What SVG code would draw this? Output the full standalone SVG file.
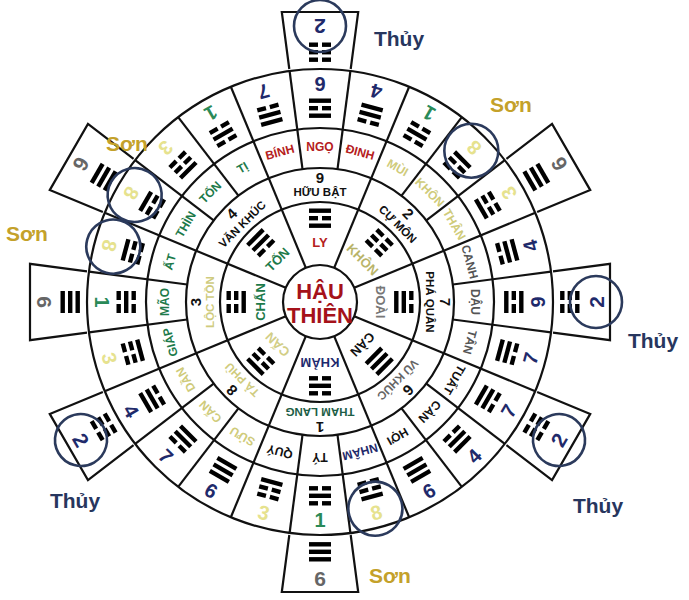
<svg xmlns="http://www.w3.org/2000/svg" xmlns:xlink="http://www.w3.org/1999/xlink" width="689" height="600" viewBox="0 0 689 600">
<style>
text{font-family:"Liberation Sans",Arial,sans-serif;font-weight:bold;text-anchor:middle;dominant-baseline:central}
.mn{font-size:12px}
.sn{font-size:11.5px}
.snum{font-size:15px;fill:#111}
.num{font-size:20px}
.tnum{font-size:21px}
.nv{fill:#1f2a6b}.gr{fill:#2a8a58}.yl{fill:#e6e28e}.gy{fill:#666}
.ln{stroke:#111;stroke-width:2.2;fill:none}
.tab{stroke:#111;stroke-width:2.2;fill:#fff}
.ring{stroke:#2b3a5c;stroke-width:2.6;fill:none}
.lbl{font-size:21px}
</style>
<defs>
<g id="S"><rect x="-11" y="-2" width="22" height="4.4"/></g>
<g id="B"><rect x="-11" y="-2" width="9" height="4.4"/><rect x="2" y="-2" width="9" height="4.4"/></g>
<g id="t6"><use href="#S" y="-7.5"/><use href="#S"/><use href="#S" y="7.5"/></g>
<g id="t2"><use href="#B" y="-7.5"/><use href="#B"/><use href="#B" y="7.5"/></g>
<g id="t3"><use href="#B" y="-7.5"/><use href="#B"/><use href="#S" y="7.5"/></g>
<g id="t1"><use href="#B" y="-7.5"/><use href="#S"/><use href="#B" y="7.5"/></g>
<g id="t8"><use href="#S" y="-7.5"/><use href="#B"/><use href="#B" y="7.5"/></g>
<g id="t4"><use href="#S" y="-7.5"/><use href="#S"/><use href="#B" y="7.5"/></g>
<g id="t9"><use href="#S" y="-7.5"/><use href="#B"/><use href="#S" y="7.5"/></g>
<g id="t7"><use href="#B" y="-7.5"/><use href="#S"/><use href="#S" y="7.5"/></g>
<path id="tabshape" class="tab" d="M-30.7,-233 L-38.2,-290 L38.2,-290 L30.7,-233"/>
</defs>
<rect width="689" height="600" fill="#fff"/>
<g transform="translate(320,302)">
<g id="tabs">
<use href="#tabshape" transform="rotate(0)"/>
<use href="#tabshape" transform="rotate(60)"/>
<use href="#tabshape" transform="rotate(90)"/>
<use href="#tabshape" transform="rotate(120)"/>
<use href="#tabshape" transform="rotate(180)"/>
<use href="#tabshape" transform="rotate(240)"/>
<use href="#tabshape" transform="rotate(270)"/>
<use href="#tabshape" transform="rotate(300)"/>
</g>
<g id="connectors">
<circle class="ln" r="37"/><circle class="ln" r="100"/><circle class="ln" r="134"/><circle class="ln" r="174"/><circle class="ln" r="233"/>
<g id="rad8">
<line class="ln" x1="0" y1="-37" x2="0" y2="-134" transform="rotate(22.5)"/>
<line class="ln" x1="0" y1="-37" x2="0" y2="-134" transform="rotate(67.5)"/>
<line class="ln" x1="0" y1="-37" x2="0" y2="-134" transform="rotate(112.5)"/>
<line class="ln" x1="0" y1="-37" x2="0" y2="-134" transform="rotate(157.5)"/>
<line class="ln" x1="0" y1="-37" x2="0" y2="-134" transform="rotate(202.5)"/>
<line class="ln" x1="0" y1="-37" x2="0" y2="-134" transform="rotate(247.5)"/>
<line class="ln" x1="0" y1="-37" x2="0" y2="-134" transform="rotate(292.5)"/>
<line class="ln" x1="0" y1="-37" x2="0" y2="-134" transform="rotate(337.5)"/>
</g>
<g id="rad24">
<line class="ln" x1="0" y1="-134" x2="0" y2="-233" transform="rotate(7.5)"/>
<line class="ln" x1="0" y1="-134" x2="0" y2="-233" transform="rotate(22.5)"/>
<line class="ln" x1="0" y1="-134" x2="0" y2="-233" transform="rotate(37.5)"/>
<line class="ln" x1="0" y1="-134" x2="0" y2="-233" transform="rotate(52.5)"/>
<line class="ln" x1="0" y1="-134" x2="0" y2="-233" transform="rotate(67.5)"/>
<line class="ln" x1="0" y1="-134" x2="0" y2="-233" transform="rotate(82.5)"/>
<line class="ln" x1="0" y1="-134" x2="0" y2="-233" transform="rotate(97.5)"/>
<line class="ln" x1="0" y1="-134" x2="0" y2="-233" transform="rotate(112.5)"/>
<line class="ln" x1="0" y1="-134" x2="0" y2="-233" transform="rotate(127.5)"/>
<line class="ln" x1="0" y1="-134" x2="0" y2="-233" transform="rotate(142.5)"/>
<line class="ln" x1="0" y1="-134" x2="0" y2="-233" transform="rotate(157.5)"/>
<line class="ln" x1="0" y1="-134" x2="0" y2="-233" transform="rotate(172.5)"/>
<line class="ln" x1="0" y1="-134" x2="0" y2="-233" transform="rotate(187.5)"/>
<line class="ln" x1="0" y1="-134" x2="0" y2="-233" transform="rotate(202.5)"/>
<line class="ln" x1="0" y1="-134" x2="0" y2="-233" transform="rotate(217.5)"/>
<line class="ln" x1="0" y1="-134" x2="0" y2="-233" transform="rotate(232.5)"/>
<line class="ln" x1="0" y1="-134" x2="0" y2="-233" transform="rotate(247.5)"/>
<line class="ln" x1="0" y1="-134" x2="0" y2="-233" transform="rotate(262.5)"/>
<line class="ln" x1="0" y1="-134" x2="0" y2="-233" transform="rotate(277.5)"/>
<line class="ln" x1="0" y1="-134" x2="0" y2="-233" transform="rotate(292.5)"/>
<line class="ln" x1="0" y1="-134" x2="0" y2="-233" transform="rotate(307.5)"/>
<line class="ln" x1="0" y1="-134" x2="0" y2="-233" transform="rotate(322.5)"/>
<line class="ln" x1="0" y1="-134" x2="0" y2="-233" transform="rotate(337.5)"/>
<line class="ln" x1="0" y1="-134" x2="0" y2="-233" transform="rotate(352.5)"/>
</g>
</g>
<g id="center"><text y="-11" font-size="22" fill="#a5121a">HẬU</text><text y="13" font-size="22" fill="#a5121a">THIÊN</text></g>
<g id="palaces">
<g id="p-ly" transform="rotate(0)"><use href="#t9" y="-84"/><text y="-60" font-size="13" fill="#b52020">LY</text><text class="sn" y="-110" fill="#111">HỮU BẬT</text><text class="snum" y="-125">9</text></g>
<g id="p-khon" transform="rotate(45)"><use href="#t2" y="-84"/><text y="-60" font-size="13" fill="#b9b46a">KHÔN</text><text class="sn" y="-110" fill="#111">CỰ MÔN</text><text class="snum" y="-125">2</text></g>
<g id="p-doai" transform="rotate(90)"><use href="#t7" y="-84"/><text y="-60" font-size="13" fill="#777">ĐOÀI</text><text class="sn" y="-110" fill="#111">PHÁ QUÂN</text><text class="snum" y="-125">7</text></g>
<g id="p-can" transform="rotate(135)"><use href="#t6" y="-84"/><text y="-60" font-size="13" fill="#111">CÀN</text><text class="sn" y="-110" fill="#666">VŨ KHÚC</text><text class="snum" y="-125">6</text></g>
<g id="p-kham" transform="rotate(180)"><use href="#t1" y="-84"/><text y="-60" font-size="13" fill="#1e2a6e">KHẢM</text><text class="sn" y="-110" fill="#1d5e46">THAM LANG</text><text class="snum" y="-125">1</text></g>
<g id="p-cann" transform="rotate(225)"><use href="#t8" y="-84"/><text y="-60" font-size="13" fill="#d2ce86">CẤN</text><text class="sn" y="-110" fill="#cfcb7e">TẢ PHÙ</text><text class="snum" y="-125">8</text></g>
<g id="p-chan" transform="rotate(270)"><use href="#t3" y="-84"/><text y="-60" font-size="13" fill="#1d7a4a">CHẤN</text><text class="sn" y="-110" fill="#cfcb7e">LỘC TỒN</text><text class="snum" y="-125">3</text></g>
<g id="p-ton" transform="rotate(315)"><use href="#t4" y="-84"/><text y="-60" font-size="13" fill="#1d7a4a">TỐN</text><text class="sn" y="-110" fill="#111">VĂN KHÚC</text><text class="snum" y="-125">4</text></g>
</g>
<g id="mountains">
<g id="m-ngo" transform="rotate(0)"><text class="mn" y="-155" fill="#b52020">NGỌ</text><use href="#t9" y="-194"/><text class="num nv" y="-218">9</text></g>
<g id="m-dinh" transform="rotate(15)"><text class="mn" y="-155" fill="#b52020">ĐINH</text><use href="#t4" y="-194"/><text class="num nv" transform="translate(0,-218) rotate(180)">4</text></g>
<g id="m-mui" transform="rotate(30)"><text class="mn" y="-155" fill="#cfcb7a">MÙI</text><use href="#t1" y="-194"/><text class="num gr" transform="translate(0,-218) rotate(180)">1</text></g>
<g id="m-khon" transform="rotate(45)"><text class="mn" y="-155" fill="#cfcb7a">KHÔN</text><use href="#t8" y="-194"/><text class="num yl" transform="translate(0,-218) rotate(180)">8</text></g>
<g id="m-than" transform="rotate(60)"><text class="mn" y="-155" fill="#cfcb7a">THÂN</text><use href="#t3" y="-194"/><text class="num yl" transform="translate(0,-218) rotate(180)">3</text></g>
<g id="m-canh" transform="rotate(75)"><text class="mn" y="-155" fill="#555">CANH</text><use href="#t4" y="-194"/><text class="num nv" transform="translate(0,-218) rotate(180)">4</text></g>
<g id="m-dau" transform="rotate(90)"><text class="mn" y="-155" fill="#555">DẬU</text><use href="#t9" y="-194"/><text class="num nv" transform="translate(0,-218) rotate(180)">9</text></g>
<g id="m-tan" transform="rotate(105)"><text class="mn" y="-155" fill="#555">TÂN</text><use href="#t7" y="-194"/><text class="num nv" transform="translate(0,-218) rotate(180)">7</text></g>
<g id="m-tuat" transform="rotate(120)"><text class="mn" y="-155" fill="#111">TUẤT</text><use href="#t7" y="-194"/><text class="num nv" transform="translate(0,-218) rotate(180)">7</text></g>
<g id="m-can" transform="rotate(135)"><text class="mn" y="-155" fill="#111">CÀN</text><use href="#t4" y="-194"/><text class="num nv" transform="translate(0,-218) rotate(180)">4</text></g>
<g id="m-hoi" transform="rotate(150)"><text class="mn" y="-155" fill="#111">HỢI</text><use href="#t6" y="-194"/><text class="num nv" transform="translate(0,-218) rotate(180)">6</text></g>
<g id="m-nham" transform="rotate(165)"><text class="mn" y="-155" fill="#1f2a6b">NHÂM</text><use href="#t8" y="-194"/><text class="num yl" transform="translate(0,-218) rotate(180)">8</text></g>
<g id="m-ty" transform="rotate(180)"><text class="mn" y="-155" fill="#111">TÝ</text><use href="#t1" y="-194"/><text class="num gr" transform="translate(0,-218) rotate(180)">1</text></g>
<g id="m-quy" transform="rotate(195)"><text class="mn" y="-155" fill="#111">QUÝ</text><use href="#t3" y="-194"/><text class="num yl" transform="translate(0,-218) rotate(180)">3</text></g>
<g id="m-suu" transform="rotate(210)"><text class="mn" y="-155" fill="#cfcb7a">SỬU</text><use href="#t6" y="-194"/><text class="num nv" transform="translate(0,-218) rotate(180)">6</text></g>
<g id="m-cann" transform="rotate(225)"><text class="mn" y="-155" fill="#cfcb7a">CẤN</text><use href="#t7" y="-194"/><text class="num nv" transform="translate(0,-218) rotate(180)">7</text></g>
<g id="m-dan" transform="rotate(240)"><text class="mn" y="-155" fill="#cfcb7a">DẦN</text><use href="#t4" y="-194"/><text class="num nv" transform="translate(0,-218) rotate(180)">4</text></g>
<g id="m-giap" transform="rotate(255)"><text class="mn" y="-155" fill="#1d7a4a">GIÁP</text><use href="#t3" y="-194"/><text class="num yl" transform="translate(0,-218) rotate(180)">3</text></g>
<g id="m-mao" transform="rotate(270)"><text class="mn" y="-155" fill="#1d7a4a">MÃO</text><use href="#t1" y="-194"/><text class="num gr" transform="translate(0,-218) rotate(180)">1</text></g>
<g id="m-at" transform="rotate(285)"><text class="mn" y="-155" fill="#1d7a4a">ẤT</text><use href="#t8" y="-194"/><text class="num yl" transform="translate(0,-218) rotate(180)">8</text></g>
<g id="m-thin" transform="rotate(300)"><text class="mn" y="-155" fill="#1d7a4a">THÌN</text><use href="#t8" y="-194"/><text class="num yl" transform="translate(0,-218) rotate(180)">8</text></g>
<g id="m-ton" transform="rotate(315)"><text class="mn" y="-155" fill="#1d7a4a">TỐN</text><use href="#t3" y="-194"/><text class="num yl" transform="translate(0,-218) rotate(180)">3</text></g>
<g id="m-ti" transform="rotate(330)"><text class="mn" y="-155" fill="#1d7a4a">TỊ</text><use href="#t1" y="-194"/><text class="num gr" transform="translate(0,-218) rotate(180)">1</text></g>
<g id="m-binh" transform="rotate(345)"><text class="mn" y="-155" fill="#b52020">BÍNH</text><use href="#t7" y="-194"/><text class="num nv" transform="translate(0,-218) rotate(180)">7</text></g>
</g>
<g id="tab-content">
<g id="tb-ngo" transform="rotate(0)"><use href="#t2" y="-250"/><text class="tnum nv" transform="translate(0,-276) rotate(180)">2</text><circle class="ring" cy="-276" r="26"/></g>
<g id="tb-than" transform="rotate(60)"><use href="#t6" y="-250"/><text class="tnum gy" transform="translate(0,-276) rotate(180)">6</text></g>
<g id="tb-dau" transform="rotate(90)"><use href="#t2" y="-250"/><text class="tnum nv" transform="translate(0,-276) rotate(180)">2</text><circle class="ring" cy="-276" r="26"/></g>
<g id="tb-tuat" transform="rotate(120)"><use href="#t2" y="-250"/><text class="tnum nv" transform="translate(0,-276) rotate(180)">2</text><circle class="ring" cy="-276" r="26"/></g>
<g id="tb-ty" transform="rotate(180)"><use href="#t6" y="-250"/><text class="tnum gy" transform="translate(0,-276) rotate(180)">6</text></g>
<g id="tb-dan" transform="rotate(240)"><use href="#t2" y="-250"/><text class="tnum nv" transform="translate(0,-276) rotate(180)">2</text><circle class="ring" cy="-276" r="26"/></g>
<g id="tb-mao" transform="rotate(270)"><use href="#t6" y="-250"/><text class="tnum gy" transform="translate(0,-276) rotate(180)">6</text></g>
<g id="tb-thin" transform="rotate(300)"><use href="#t6" y="-250"/><text class="tnum gy" transform="translate(0,-276) rotate(180)">6</text></g>
</g>
<g id="son-rings">
<circle class="ring" cy="-214" r="27" transform="rotate(45)"/>
<circle class="ring" cy="-214" r="27" transform="rotate(165)"/>
<circle class="ring" cy="-214" r="27" transform="rotate(285)"/>
<circle class="ring" cy="-214" r="27" transform="rotate(300)"/>
</g>
</g>
<g id="labels">
<text class="lbl" x="399" y="38" fill="#27365e">Thủy</text>
<text class="lbl" x="653" y="340" fill="#27365e">Thủy</text>
<text class="lbl" x="75" y="500" fill="#27365e">Thủy</text>
<text class="lbl" x="598" y="505" fill="#27365e">Thủy</text>
<text class="lbl" x="511" y="104" fill="#c4a12a">Sơn</text>
<text class="lbl" x="127" y="143" fill="#c4a12a">Sơn</text>
<text class="lbl" x="27" y="233" fill="#c4a12a">Sơn</text>
<text class="lbl" x="390" y="575" fill="#c4a12a">Sơn</text>
</g>
</svg>
